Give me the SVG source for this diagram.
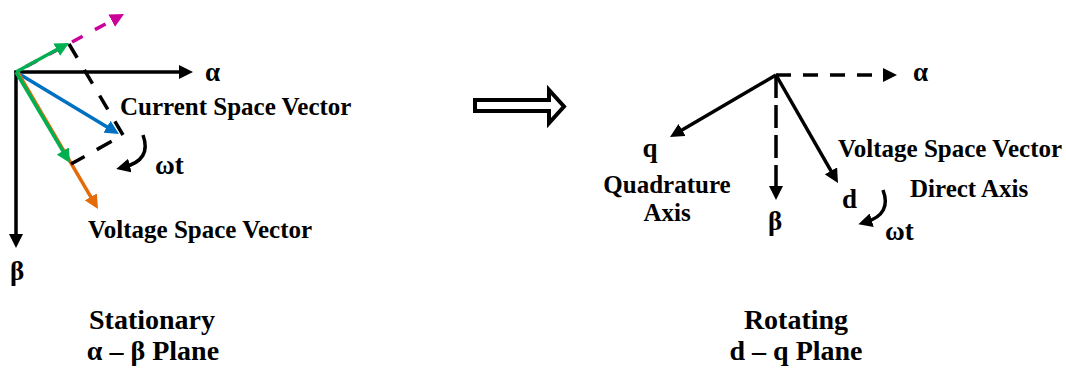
<svg xmlns="http://www.w3.org/2000/svg" width="1066" height="369" viewBox="0 0 1066 369">
  <style>
    text { font-family: "Liberation Serif", "Times New Roman", serif; font-weight: bold; fill: #000; }
    .lbl { font-size: 25px; }
    .sym { font-size: 27px; }
    .big { font-size: 28px; }
    .mid { text-anchor: middle; }
    .vec { fill: none; stroke-width: 3.5; }
    .k { stroke: #000; }
    .g { stroke: #00B050; }
    .b { stroke: #0070C0; }
    .o { stroke: #E36C09; }
    .m { stroke: #CC0099; }
  </style>
  <defs>
    <marker id="ah-k" viewBox="0 0 14 14" refX="6" refY="7" markerWidth="14" markerHeight="14" markerUnits="userSpaceOnUse" orient="auto"><path d="M0,0 L14,7 L0,14 z" fill="#000"/></marker>
    <marker id="ah-g" viewBox="0 0 14 14" refX="6" refY="7" markerWidth="14" markerHeight="14" markerUnits="userSpaceOnUse" orient="auto"><path d="M0,0 L14,7 L0,14 z" fill="#00B050"/></marker>
    <marker id="ah-b" viewBox="0 0 14 14" refX="6" refY="7" markerWidth="14" markerHeight="14" markerUnits="userSpaceOnUse" orient="auto"><path d="M0,0 L14,7 L0,14 z" fill="#0070C0"/></marker>
    <marker id="ah-o" viewBox="0 0 14 14" refX="6" refY="7" markerWidth="14" markerHeight="14" markerUnits="userSpaceOnUse" orient="auto"><path d="M0,0 L14,7 L0,14 z" fill="#E36C09"/></marker>
    <marker id="ah-m" viewBox="0 0 14 14" refX="6" refY="7" markerWidth="14" markerHeight="14" markerUnits="userSpaceOnUse" orient="auto"><path d="M0,0 L14,7 L0,14 z" fill="#CC0099"/></marker>
  </defs>
  <rect width="1066" height="369" fill="#fff"/>

  <g id="connectors">
    <!-- stationary frame -->
    <line class="vec k" x1="14.5" y1="72" x2="185" y2="72" stroke-width="3" marker-end="url(#ah-k)"/>
    <line class="vec k" x1="16" y1="70.5" x2="16" y2="240" stroke-width="3" marker-end="url(#ah-k)"/>
    <line class="vec m" x1="16" y1="72" x2="117" y2="17.8" stroke-dasharray="12 14" stroke-dashoffset="14.4" marker-end="url(#ah-m)"/>
    <line class="vec b" x1="16" y1="72" x2="112.1" y2="129.9" marker-end="url(#ah-b)"/>
    <line class="vec o" x1="17.5" y1="72" x2="93.9" y2="202.1" marker-end="url(#ah-o)"/>
    <line class="vec g" x1="16" y1="72" x2="65.9" y2="156.1" marker-end="url(#ah-g)"/>
    <line class="vec g" x1="16" y1="72" x2="62" y2="46.8" marker-end="url(#ah-g)"/>
    <line class="vec k" x1="69" y1="44" x2="123" y2="135" stroke-width="4" stroke-dasharray="16 14"/>
    <line class="vec k" x1="123" y1="135" x2="71" y2="164" stroke-width="4" stroke-dasharray="17 14" stroke-dashoffset="18"/>
    <path class="vec k" d="M143,135 Q152,160 124,167" marker-end="url(#ah-k)"/>

    <!-- transformation arrow -->
    <polygon id="transform-arrow" points="475,100 549,100 549,90 564,106.5 549,123 549,111 475,111" fill="#fff" stroke="#000" stroke-width="4" stroke-linejoin="miter"/>

    <!-- rotating frame -->
    <line class="vec k" x1="776" y1="75" x2="889" y2="75" stroke-width="3.5" stroke-dasharray="15 12" marker-end="url(#ah-k)"/>
    <line class="vec k" x1="776" y1="75" x2="776" y2="192" stroke-width="3.5" stroke-dasharray="23 7" marker-end="url(#ah-k)"/>
    <line class="vec k" x1="776" y1="75" x2="676.9" y2="133" marker-end="url(#ah-k)"/>
    <line class="vec k" x1="776" y1="75" x2="834" y2="176.1" marker-end="url(#ah-k)"/>
    <path class="vec k" d="M883,190 Q892,214 866,222" marker-end="url(#ah-k)"/>
  </g>

  <g id="stationary-labels">
    <text class="sym" x="205" y="81">α</text>
    <text class="sym mid" x="17" y="280">β</text>
    <text class="lbl" x="120" y="115">Current Space Vector</text>
    <text class="lbl" x="88" y="238">Voltage Space Vector</text>
    <text class="sym" x="155" y="174">ωt</text>
  </g>

  <g id="rotating-labels">
    <text class="sym" x="913" y="81">α</text>
    <text class="sym mid" x="775" y="230">β</text>
    <text class="sym mid" x="650" y="157">q</text>
    <text class="lbl mid" x="667" y="193">Quadrature</text>
    <text class="lbl mid" x="667" y="221">Axis</text>
    <text class="lbl" x="838" y="157">Voltage Space Vector</text>
    <text class="sym" x="842" y="208">d</text>
    <text class="lbl" x="910" y="197">Direct Axis</text>
    <text class="sym" x="885" y="240">ωt</text>
  </g>

  <g id="stationary-title">
    <text class="big mid" x="152" y="329">Stationary</text>
    <text class="big mid" x="153" y="360">α – β Plane</text>
  </g>
  <g id="rotating-title">
    <text class="big mid" x="796" y="329">Rotating</text>
    <text class="big mid" x="796" y="360">d – q Plane</text>
  </g>
</svg>
